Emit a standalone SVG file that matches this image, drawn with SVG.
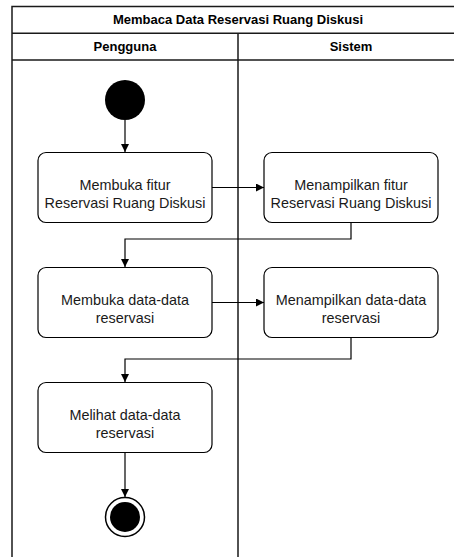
<svg xmlns="http://www.w3.org/2000/svg" width="454" height="557" viewBox="0 0 454 557">
  <style>
    .frame { fill: none; stroke: #1a1a1a; stroke-width: 1.5; }
    .lane-title { font-family: "Liberation Sans", Arial, sans-serif; font-size: 13px; font-weight: bold; fill: #000; text-anchor: middle; }
    .act { fill: #fff; stroke: #000; stroke-width: 1.2; }
    .lbl { font-family: "Liberation Sans", Arial, sans-serif; font-size: 14.4px; fill: #1a1a1a; text-anchor: middle; }
    .edge { fill: none; stroke: #000; stroke-width: 1.2; }
  </style>
  <defs>
    <marker id="arrow" viewBox="0 0 10 10" refX="10" refY="5" markerWidth="8" markerHeight="8" markerUnits="userSpaceOnUse" orient="auto">
      <path d="M0,0 L10,5 L0,10 Z" fill="#000"/>
    </marker>
  </defs>

  <rect width="454" height="557" fill="#fff"/>

  <!-- swimlane frame -->
  <g id="pool">
    <path class="frame" d="M12,557 V6.5 H464 M12,33.3 H464 M12,60 H464 M238,33.3 V557"/>
    <text class="lane-title" x="238" y="24">Membaca Data Reservasi Ruang Diskusi</text>
    <text class="lane-title" x="125" y="51">Pengguna</text>
    <text class="lane-title" x="351" y="51">Sistem</text>
  </g>

  <!-- connectors -->
  <g id="edges">
    <path class="edge" d="M125,120 V152" marker-end="url(#arrow)"/>
    <path class="edge" d="M212,187.5 H264" marker-end="url(#arrow)"/>
    <path class="edge" d="M351,223 V239 H125 V267" marker-end="url(#arrow)"/>
    <path class="edge" d="M212,302.5 H264" marker-end="url(#arrow)"/>
    <path class="edge" d="M351,338 V359 H125 V382" marker-end="url(#arrow)"/>
    <path class="edge" d="M125,453 V497" marker-end="url(#arrow)"/>
  </g>

  <g id="start">
    <circle cx="125" cy="100" r="20" fill="#000"/>
  </g>

  <g id="a1">
    <rect class="act" x="38" y="152.5" width="174" height="70" rx="8"/>
    <text class="lbl" x="125" y="190">Membuka fitur</text>
    <text class="lbl" x="125" y="208">Reservasi Ruang Diskusi</text>
  </g>

  <g id="a2">
    <rect class="act" x="264" y="152.5" width="174" height="70" rx="8"/>
    <text class="lbl" x="351" y="190">Menampilkan fitur</text>
    <text class="lbl" x="351" y="208">Reservasi Ruang Diskusi</text>
  </g>

  <g id="a3">
    <rect class="act" x="38" y="267.5" width="174" height="70" rx="8"/>
    <text class="lbl" x="125" y="305">Membuka data-data</text>
    <text class="lbl" x="125" y="323">reservasi</text>
  </g>

  <g id="a4">
    <rect class="act" x="264" y="267.5" width="174" height="70" rx="8"/>
    <text class="lbl" x="351" y="305">Menampilkan data-data</text>
    <text class="lbl" x="351" y="323">reservasi</text>
  </g>

  <g id="a5">
    <rect class="act" x="38" y="382.5" width="174" height="70" rx="8"/>
    <text class="lbl" x="125" y="420">Melihat data-data</text>
    <text class="lbl" x="125" y="438">reservasi</text>
  </g>

  <g id="end">
    <circle cx="125" cy="517" r="19.5" fill="#fff" stroke="#000" stroke-width="1.5"/>
    <circle cx="125" cy="517" r="15" fill="#000"/>
  </g>
</svg>
